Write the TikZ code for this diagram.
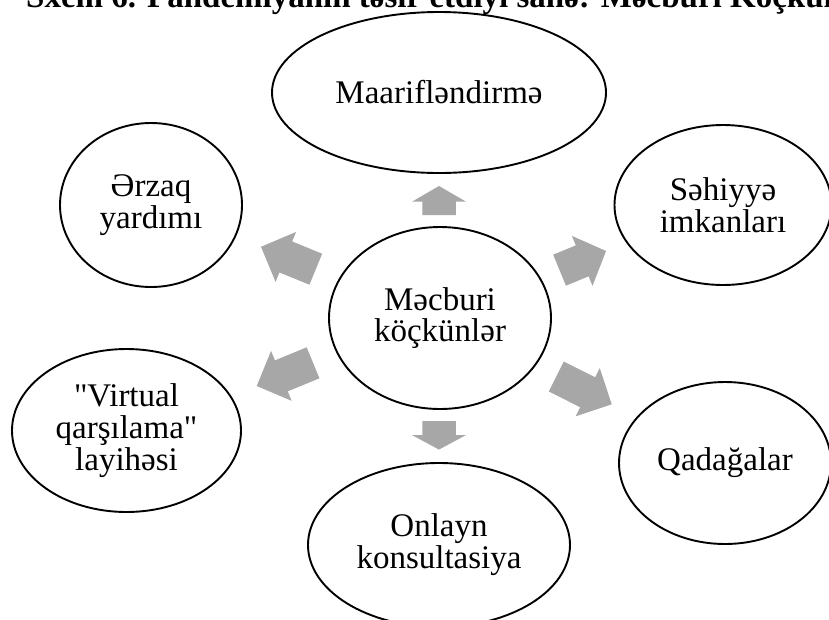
\documentclass[tikz,border=0pt]{standalone}
\usepackage{fontspec}
\setmainfont{Liberation Serif}[Ligatures=TeXOff]
\usetikzlibrary{shapes.geometric}
\definecolor{arrowgray}{RGB}{167,167,167}
\tikzset{
  bubble/.style={ellipse, draw=black, line width=1.9pt, fill=white, inner sep=0pt,
    align=center, font=\fontsize{33}{32}\selectfont},
  titletext/.style={anchor=base west, inner sep=0pt, font=\bfseries\fontsize{33}{33}\selectfont}
}
\newcommand\blockarrow[6]{%
  \begin{scope}[shift={(#2,#3)},rotate=#4]
    \coordinate (#1) at (0,0);
    \fill[arrowgray] ({-#5/2},-16.75) -- ({#5/2-#6},-16.75) -- ({#5/2-#6},-27) -- ({#5/2},0)
      -- ({#5/2-#6},27) -- ({#5/2-#6},16.75) -- ({-#5/2},16.75) -- cycle;
  \end{scope}}
\begin{document}
\begin{tikzpicture}[x=1pt,y=-1pt]
  \useasboundingbox (0,0) rectangle (829,619);
  \fill[white] (0,0) rectangle (829,619);
  \clip (0,0) rectangle (829,619);
  \node[titletext] (title) at (26,7) {Sxem 6. Pandemiyanın təsir etdiyi sahə: Məcburi Köçkünlər};
  % ellipses
  \node[bubble, minimum width=334pt, minimum height=161pt] (maarif) at (439,92.5) {Maarifləndirmə};
  \node[bubble, minimum width=182pt, minimum height=164pt] (erzaq) at (151,205) {Ərzaq\\yardımı};
  \node[bubble, minimum width=217pt, minimum height=160pt] (sehiyye) at (723,205) {Səhiyyə\\imkanları};
  \node[bubble, minimum width=222pt, minimum height=182pt, font=\fontsize{33}{31}\selectfont] (center) at (440,318) {Məcburi\\köçkünlər};
  \node[bubble, minimum width=229pt, minimum height=163pt] (virtual) at (126.5,430.5) {"Virtual\\qarşılama"\\layihəsi};
  \node[bubble, minimum width=262pt, minimum height=164pt] (onlayn) at (439,545) {Onlayn\\konsultasiya};
  \node[bubble, minimum width=212pt, minimum height=162pt] (qadaga) at (725,463) {Qadağalar};
  % block arrows
  \blockarrow{aup}{439}{200.5}{90}{29}{15.7}
  \blockarrow{adown}{439}{435.3}{-90}{28.5}{14.5}
  \blockarrow{aul}{288.4}{258}{157.7}{59.2}{26.8}
  \blockarrow{aur}{582.8}{260.6}{22.4}{50.3}{25.8}
  \blockarrow{all}{284.9}{374.4}{202.4}{60.9}{26.6}
  \blockarrow{alr}{584}{390.4}{-26.6}{62}{26.9}
\end{tikzpicture}
\end{document}
